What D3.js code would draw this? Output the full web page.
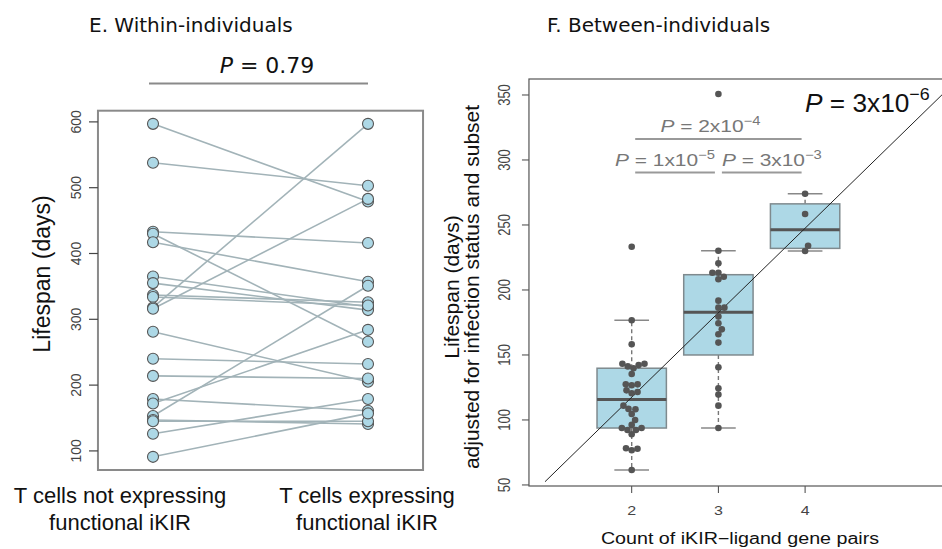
<!DOCTYPE html>
<html>
<head>
<meta charset="utf-8">
<script src="https://cdn.jsdelivr.net/npm/d3@7"></script>
<style>
  body { margin: 0; background: #fff; }
  svg { display: block; }
</style>
</head>
<body>
<svg id="chart" width="942" height="549"></svg>
<script>
////////////////////////////// DATA //////////////////////////////
// panel E: paired lifespans (days), same index = same individual
var lifeNotExpr = [597, 538, 433, 430, 417, 365, 355, 337, 334, 318, 316, 281, 240, 214, 179, 172, 153, 147, 145, 126, 91];
var lifeExpr    = [479, 503, 416, 266, 357, 319, 314, 326, 321, 597, 483, 205, 232, 210, 161, 284, 351, 141, 145, 179, 157];
var groupLabels = [["T cells not expressing", "functional iKIR"], ["T cells expressing", "functional iKIR"]];
var leftTicks = [100, 200, 300, 400, 500, 600];

// panel F: adjusted lifespan by count of iKIR-ligand gene pairs
var pairCounts = [2, 3, 4];
var adj2 = [233.3, 176.7, 158.2, 143.2, 142.2, 141.2, 139.8, 143.2, 135.4, 127.4, 126.7, 127.4,
            122.8, 121.5, 120.5, 111, 108.5, 108.2, 104.6, 100, 96.2, 93.8, 92.3, 92.3, 93.8, 89,
            78.2, 76.7, 77.9, 61.5];
var adj3 = [350.8, 230.2, 220.5, 213.3, 213.3, 208.2, 210.2, 191.8, 186.4, 186.4, 179.5, 174.4,
            169.7, 165.9, 159.5, 140.5, 124.4, 119.5, 111, 93.8];
var adj4 = [274, 258.5, 234, 230];
var rightTicks = [50, 100, 150, 200, 250, 300, 350];
var fitLine = { intercept: 52.5, slope: 65 };   // lifespan = a + b*(count-1)
var pTests = [
  { from: 2, to: 4, label: "2x10", exp: "\u22124" },
  { from: 2, to: 3, label: "1x10", exp: "\u22125" },
  { from: 3, to: 4, label: "3x10", exp: "\u22123" }
];

var svg = d3.select("#chart");
var sans = "'Liberation Sans', Arial, sans-serif";
var dejavu = "'DejaVu Sans', Verdana, sans-serif";
var stretch = 1.23;   // panel F text is drawn a bit wider than tall

////////////////////////////// PANEL E //////////////////////////////
var xE = d3.scaleLinear().domain([1, 2]).range([153, 368]);
var yE = d3.scaleLinear().domain([71, 617]).range([470, 110.7]);

svg.append("text")
  .attr("x", 89).attr("y", 32)
  .style("font-family", dejavu).style("font-size", "20px").style("fill", "#111")
  .text("E. Within-individuals");

var pE = svg.append("text")
  .attr("x", 267).attr("y", 73)
  .attr("text-anchor", "middle")
  .style("font-family", dejavu).style("font-size", "22px").style("fill", "#111");
pE.append("tspan").style("font-style", "italic").text("P");
pE.append("tspan").text(" = 0.79");

svg.append("line")
  .attr("x1", xE(1) - 4).attr("x2", xE(2))
  .attr("y1", 83.5).attr("y2", 83.5)
  .style("stroke", "#8a8a8a").style("stroke-width", 2);

svg.append("rect")
  .attr("x", xE(0.744)).attr("y", yE.range()[1])
  .attr("width", xE(2.256) - xE(0.744)).attr("height", yE.range()[0] - yE.range()[1])
  .style("fill", "none").style("stroke", "#8a8a8a").style("stroke-width", 2);

// y axis
var axE = svg.append("g");
axE.selectAll("line").data(leftTicks).enter().append("line")
  .attr("x1", 89).attr("x2", xE(0.744))
  .attr("y1", function(d) { return yE(d); }).attr("y2", function(d) { return yE(d); })
  .style("stroke", "#444").style("stroke-width", 1.2);
axE.selectAll("text").data(leftTicks).enter().append("text")
  .attr("transform", function(d) { return "translate(81," + yE(d) + ") rotate(-90)"; })
  .attr("text-anchor", "middle")
  .style("font-family", sans).style("font-size", "14px").style("fill", "#444")
  .text(function(d) { return d; });

svg.append("text")
  .attr("transform", "translate(50,274) rotate(-90)")
  .attr("text-anchor", "middle")
  .style("font-family", sans).style("font-size", "23px").style("fill", "#111")
  .text("Lifespan (days)");

// x labels
groupLabels.forEach(function(lines, i) {
  var t = svg.append("text")
    .attr("text-anchor", "middle")
    .style("font-family", sans).style("font-size", "22px").style("fill", "#111");
  lines.forEach(function(s, j) {
    t.append("tspan").attr("x", i == 0 ? 120 : 367).attr("y", 503 + j * 27).text(s);
  });
});

// paired lines then points
var pairs = lifeNotExpr.map(function(v, i) { return [v, lifeExpr[i]]; });
svg.append("g").selectAll("line").data(pairs).enter().append("line")
  .attr("x1", xE(1)).attr("x2", xE(2))
  .attr("y1", function(d) { return yE(d[0]); })
  .attr("y2", function(d) { return yE(d[1]); })
  .style("stroke", "#a2b3b8").style("stroke-width", 1.6);

var ptsE = [];
pairs.forEach(function(d) { ptsE.push([1, d[0]]); ptsE.push([2, d[1]]); });
svg.append("g").selectAll("circle").data(ptsE).enter().append("circle")
  .attr("cx", function(d) { return xE(d[0]); })
  .attr("cy", function(d) { return yE(d[1]); })
  .attr("r", 5.5)
  .style("fill", "#add8e6").style("stroke", "#555").style("stroke-width", 1.1);

////////////////////////////// PANEL F //////////////////////////////
var xF = d3.scaleLinear().domain([2, 3]).range([631.7, 718.4]);
var yF = d3.scaleLinear().domain([49.2, 362.3]).range([486, 79]);
var left = xF(0.815), right = xF(5.75);

svg.append("text")
  .attr("x", 547).attr("y", 32)
  .style("font-family", dejavu).style("font-size", "20px").style("fill", "#111")
  .text("F. Between-individuals");

svg.append("defs").append("clipPath").attr("id", "clipF")
  .append("rect").attr("x", left).attr("y", 79).attr("width", right - left).attr("height", 407);

// text helper: wider-than-tall labels like the R export
function wideText(x, y, rot, size, fill) {
  return svg.append("text")
    .attr("transform", "translate(" + x + "," + y + ") scale(" + stretch + ",1)" + (rot ? " rotate(" + rot + ")" : ""))
    .style("font-family", sans).style("font-size", size + "px").style("fill", fill);
}

// y axis
svg.append("g").selectAll("line").data(rightTicks).enter().append("line")
  .attr("x1", left - 7).attr("x2", left)
  .attr("y1", function(d) { return yF(d); }).attr("y2", function(d) { return yF(d); })
  .style("stroke", "#444").style("stroke-width", 1);
rightTicks.forEach(function(d) {
  wideText(510, yF(d), -90, 13, "#444").attr("text-anchor", "middle").text(d);
});

// x axis
svg.append("g").selectAll("line").data(pairCounts).enter().append("line")
  .attr("x1", function(d) { return xF(d); }).attr("x2", function(d) { return xF(d); })
  .attr("y1", 486).attr("y2", 493)
  .style("stroke", "#444").style("stroke-width", 1);
pairCounts.forEach(function(d) {
  wideText(xF(d), 515, 0, 13, "#444").attr("text-anchor", "middle").text(d);
});

wideText(740, 544, 0, 16, "#111").attr("text-anchor", "middle")
  .text("Count of iKIR\u2212ligand gene pairs");

svg.append("text")
  .attr("transform", "translate(459,287) rotate(-90)")
  .attr("text-anchor", "middle")
  .style("font-family", sans).style("font-size", "21px").style("fill", "#111")
  .text("Lifespan (days)");
svg.append("text")
  .attr("transform", "translate(479,287) rotate(-90)")
  .attr("text-anchor", "middle")
  .style("font-family", sans).style("font-size", "21px").style("fill", "#111")
  .text("adjusted for infection status and subset");

// R-style boxplot stats (Tukey hinges)
function fivenum(a) {
  var s = a.slice().sort(d3.ascending), n = s.length;
  var n4 = Math.floor((n + 3) / 2) / 2;
  return [1, n4, (n + 1) / 2, n + 1 - n4, n].map(function(i) {
    return 0.5 * (s[Math.floor(i) - 1] + s[Math.ceil(i) - 1]);
  });
}

// simple swarm: place each point at the smallest free offset
function swarm(vals, cx, d) {
  var placed = [];
  vals.slice().sort(d3.ascending).forEach(function(v) {
    var py = yF(v);
    var near = placed.filter(function(p) { return Math.abs(p.y - py) < d; });
    var cands = [0];
    near.forEach(function(p) {
      var w = Math.sqrt(d * d - (p.y - py) * (p.y - py));
      cands.push(p.off - w, p.off + w);
    });
    cands.sort(function(a, b) { return Math.abs(a) - Math.abs(b) || b - a; });
    var off = cands.find(function(c) {
      return near.every(function(p) {
        return (c - p.off) * (c - p.off) + (p.y - py) * (p.y - py) >= d * d - 0.01;
      });
    });
    placed.push({ off: off, y: py, v: v });
  });
  return placed.map(function(p) { return { x: cx + p.off, y: p.y }; });
}

var groupsF = [adj2, adj3, adj4];
var gBox = svg.append("g");
groupsF.forEach(function(vals, i) {
  var c = pairCounts[i];
  var f = fivenum(vals);
  var iqr = f[3] - f[1];
  var hi = d3.max(vals.filter(function(v) { return v <= f[3] + 1.5 * iqr; }));
  var lo = d3.min(vals.filter(function(v) { return v >= f[1] - 1.5 * iqr; }));
  var g = gBox.append("g");
  // whiskers
  g.append("line").attr("x1", xF(c)).attr("x2", xF(c)).attr("y1", yF(f[3])).attr("y2", yF(hi))
    .style("stroke", "#777").style("stroke-width", 1.4).style("stroke-dasharray", "4,3");
  g.append("line").attr("x1", xF(c)).attr("x2", xF(c)).attr("y1", yF(f[1])).attr("y2", yF(lo))
    .style("stroke", "#777").style("stroke-width", 1.4).style("stroke-dasharray", "4,3");
  [hi, lo].forEach(function(w) {
    g.append("line").attr("x1", xF(c - 0.2)).attr("x2", xF(c + 0.2)).attr("y1", yF(w)).attr("y2", yF(w))
      .style("stroke", "#888").style("stroke-width", 1.5);
  });
  g.append("rect")
    .attr("x", xF(c - 0.4)).attr("width", xF(c + 0.4) - xF(c - 0.4))
    .attr("y", yF(f[3])).attr("height", yF(f[1]) - yF(f[3]))
    .style("fill", "#add8e6").style("stroke", "#7f8a8e").style("stroke-width", 1.5);
  g.append("line").attr("x1", xF(c - 0.4)).attr("x2", xF(c + 0.4)).attr("y1", yF(f[2])).attr("y2", yF(f[2]))
    .style("stroke", "#555").style("stroke-width", 3);
});

// regression line
svg.append("line")
  .attr("clip-path", "url(#clipF)")
  .attr("x1", xF(1)).attr("y1", yF(fitLine.intercept))
  .attr("x2", xF(6)).attr("y2", yF(fitLine.intercept + fitLine.slope * 5))
  .style("stroke", "#222").style("stroke-width", 1);

// beeswarm points
groupsF.forEach(function(vals, i) {
  svg.append("g").selectAll("circle").data(swarm(vals, xF(pairCounts[i]), 6)).enter().append("circle")
    .attr("cx", function(d) { return d.x; })
    .attr("cy", function(d) { return d.y; })
    .attr("r", 3.3)
    .style("fill", "#555");
});

// frame
svg.append("rect")
  .attr("x", left).attr("y", 79).attr("width", right - left).attr("height", 407)
  .style("fill", "none").style("stroke", "#555").style("stroke-width", 1.2);

// pairwise tests
var pY = { "2-4": 139, "2-3": 172.5, "3-4": 172.5 };
pTests.forEach(function(t) {
  var key = t.from + "-" + t.to;
  var x1 = xF(t.from) + 3.5, x2 = xF(t.to) - 3.5;
  svg.append("line").attr("x1", x1).attr("x2", x2).attr("y1", pY[key]).attr("y2", pY[key])
    .style("stroke", "#999").style("stroke-width", 2);
  var anchor = key == "2-3" ? "end" : (key == "3-4" ? "start" : "middle");
  var tx = key == "2-3" ? x2 : (key == "3-4" ? x1 : (x1 + x2) / 2 - 8);
  var txt = wideText(tx, pY[key] - 7, 0, 17, "#777").attr("text-anchor", anchor);
  txt.append("tspan").style("font-style", "italic").text("P");
  txt.append("tspan").text(" = " + t.label);
  txt.append("tspan").attr("dy", -7).style("font-size", "12px").text(t.exp);
});

var pF = svg.append("text")
  .attr("transform", "translate(805,112) scale(1.05,1)")
  .style("font-family", sans).style("font-size", "25px").style("fill", "#111");
pF.append("tspan").style("font-style", "italic").text("P");
pF.append("tspan").text(" = 3x10");
pF.append("tspan").attr("dy", -12).style("font-size", "17px").text("\u22126");
</script>
</body>
</html>
